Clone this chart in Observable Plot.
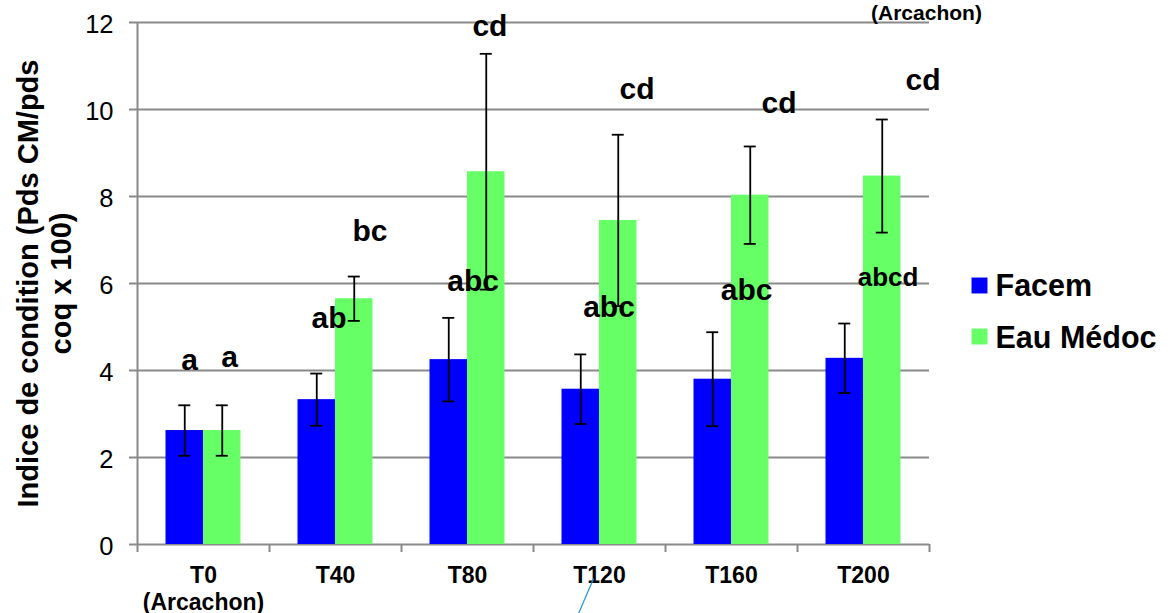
<!DOCTYPE html>
<html>
<head>
<meta charset="utf-8">
<script src="https://cdn.jsdelivr.net/npm/d3@7"></script>
<script src="https://cdn.jsdelivr.net/npm/@observablehq/plot@0.6"></script>
<style>
  html, body { margin: 0; padding: 0; background: #fff; }
  #chart svg { display: block; }
</style>
</head>
<body>
<div id="chart"></div>
<script>
// ---------- data ----------
const categories = ["T0", "T40", "T80", "T120", "T160", "T200"];
const categorySubLabels = ["(Arcachon)", "", "", "", "", ""];
const seriesNames = ["Facem", "Eau Médoc"];
const facem    = [2.62, 3.33, 4.25, 3.57, 3.80, 4.28];
const facemErr = [0.58, 0.60, 0.96, 0.80, 1.08, 0.80];
const eau      = [2.62, 5.65, 8.57, 7.45, 8.03, 8.47];
const eauErr   = [0.58, 0.51, 2.71, 1.97, 1.12, 1.30];
const yTicks = [0, 2, 4, 6, 8, 10, 12];

// significance letters (text) and the value at which each one sits
const facemLetters = ["a", "ab", "abc", "abc", "abc", "abcd"];
const eauLetters   = ["a", "bc", "cd", "cd", "cd", "cd"];
const facemLetterY = [4.02, 4.97, 5.82, 5.22, 5.63, 5.95];
const eauLetterY   = [4.07, 6.97, 11.70, 10.23, 9.91, 10.44];
// annotation layout: horizontal shift of each letter from its category centre (in category widths)
const facemLetterShift = [-0.106, -0.049, 0.042, 0.072, 0.114, 0.186];
const eauLetterShift   = [0.197, 0.261, 0.170, 0.284, 0.360, 0.451];
// stray annotations of the original figure
const strayNote = [{text: "(Arcachon)", x: 5.977, y: 12.05}];
const strayLeader = [{x1: 3.455, y1: -0.78, x2: 3.341, y2: -1.59}];

// ---------- layout ----------
const W = 1173, H = 613;
const mL = 137, mR = 244, mT = 22, mB = 69;
const pxX = (W - mL - mR) / categories.length;   // px per category
const pxY = (H - mT - mB) / 12;                   // px per unit
const barW = 37.5 / pxX;
const capW = 6 / pxX;
const tickX = 8 / pxX, tickY = 8 / pxY;
const font = "'Liberation Sans', Arial, Helvetica, sans-serif";
const gridColor = "#898989";

const rows = categories.flatMap((c, i) => [
  {cat: c, i, series: "Facem", value: facem[i], err: facemErr[i], side: -1},
  {cat: c, i, series: "Eau Médoc", value: eau[i], err: eauErr[i], side: 1}
]);
const cx = d => d.i + 0.5 + d.side * barW / 2;

const letters = categories.flatMap((c, i) => [
  {i, t: facemLetters[i], y: facemLetterY[i], shift: facemLetterShift[i]},
  {i, t: eauLetters[i], y: eauLetterY[i], shift: eauLetterShift[i]}
]);

const legendMarks = seriesNames.flatMap((s, k) => [
  Plot.dot([s], {frameAnchor: "right", dx: 50, dy: 2 + 51 * k, symbol: "square", r: 9, fill: d => d, stroke: null}),
  Plot.text([s], {frameAnchor: "right", dx: 66, dy: 12 + 52 * k, text: d => d, textAnchor: "start",
    lineAnchor: "bottom", fontSize: 30.5, fontWeight: "bold", fill: "#000"})
]);

const chart = Plot.plot({
  width: W, height: H,
  marginLeft: mL, marginRight: mR, marginTop: mT, marginBottom: mB,
  x: {domain: [0, categories.length], axis: null},
  y: {domain: [0, 12], axis: null},
  color: {domain: seriesNames, range: ["#0000ff", "#66ff66"]},
  style: {fontFamily: font, background: "#fff", color: "#000", overflow: "visible"},
  marks: [
    // gridlines with their ticks
    Plot.ruleY(yTicks, {x1: -tickX, x2: categories.length, stroke: gridColor, strokeWidth: 2}),
    Plot.ruleX([0], {y1: -tickY, y2: 12, stroke: gridColor, strokeWidth: 2}),
    Plot.ruleX(d3.range(1, categories.length + 1), {y1: -tickY, y2: 0, stroke: gridColor, strokeWidth: 2}),
    // bars
    Plot.rectY(rows, {
      x1: d => d.i + 0.5 + (d.side < 0 ? -barW : 0),
      x2: d => d.i + 0.5 + (d.side < 0 ? 0 : barW),
      y1: 0, y2: "value", fill: "series"
    }),
    // error bars
    Plot.ruleX(rows, {x: cx, y1: d => d.value - d.err, y2: d => d.value + d.err, stroke: "#000", strokeWidth: 1.8}),
    Plot.ruleY(rows, {y: d => d.value + d.err, x1: d => cx(d) - capW, x2: d => cx(d) + capW, stroke: "#000", strokeWidth: 1.8}),
    Plot.ruleY(rows, {y: d => d.value - d.err, x1: d => cx(d) - capW, x2: d => cx(d) + capW, stroke: "#000", strokeWidth: 1.8}),
    // letters
    Plot.text(letters, {
      x: d => d.i + 0.5 + d.shift, y: "y", text: "t",
      lineAnchor: "bottom", fontSize: d => d.t.length > 3 ? 26 : 30, fontWeight: "bold", fill: "#000"
    }),
    // y tick labels
    Plot.text(yTicks, {x: 0, y: d => d, text: d => String(d), dx: -24, dy: 2, textAnchor: "end", fontSize: 25.5, fill: "#000"}),
    // x category labels
    Plot.text(categories, {
      x: (d, i) => i + 0.5, y: 0,
      text: (d, i) => categorySubLabels[i] ? d + "\n" + categorySubLabels[i] : d,
      lineAnchor: "top", dy: 19, lineHeight: 1.17, fontSize: 23, fontWeight: "bold", fill: "#000"
    }),
    // y axis title (two lines)
    Plot.text(["Indice de condition (Pds CM/pds"], {frameAnchor: "left", rotate: -90, dx: -99.5, lineAnchor: "bottom",
      textAnchor: "middle", fontSize: 29, fontWeight: "bold", fill: "#000"}),
    Plot.text(["coq x 100)"], {frameAnchor: "left", rotate: -90, dx: -67, lineAnchor: "bottom",
      textAnchor: "middle", fontSize: 29, fontWeight: "bold", fill: "#000"}),
    // stray annotations
    Plot.text(strayNote, {x: "x", y: "y", text: "text", lineAnchor: "bottom", fontSize: 21, fontWeight: "bold", fill: "#000"}),
    Plot.link(strayLeader, {x1: "x1", y1: "y1", x2: "x2", y2: "y2", stroke: "#1e96e0", strokeWidth: 1.2}),
    // legend
    ...legendMarks
  ]
});
document.getElementById("chart").appendChild(chart);
</script>
</body>
</html>
